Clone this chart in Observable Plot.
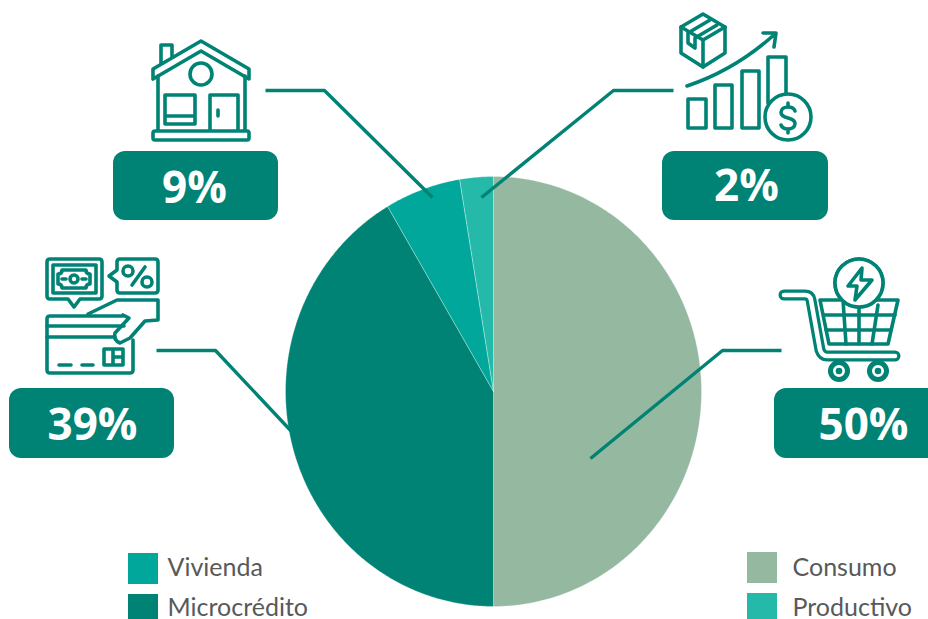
<!DOCTYPE html>
<html>
<head>
<meta charset="utf-8">
<style>html,body{margin:0;padding:0;background:#fff;overflow:hidden}svg{display:block}</style>
<script src="https://cdn.jsdelivr.net/npm/d3@7"></script>
<script src="https://cdn.jsdelivr.net/npm/@observablehq/plot@0.6"></script>
</head>
<body>
<div id="chart"></div>
<script>
const categories = ["Consumo", "Microcrédito", "Vivienda", "Productivo"];
const sliceShares = [50, 41.5, 5.9, 2.6];
const labelTexts = ["50%", "39%", "9%", "2%"];
const sliceColors = ["#94b8a0", "#008375", "#00a79a", "#25b9a9"];

const TEAL = "#008375";
const W = 928, H = 619;
const cx = 493, cy = 391, rx = 208, ry = 215;

const pieGen = d3.pie().sort(null).startAngle(0).endAngle(2 * Math.PI);
const arcs = pieGen(sliceShares);
const slicePoints = arcs.flatMap((a, i) => {
  const steps = Math.max(4, Math.ceil((a.endAngle - a.startAngle) / 0.01));
  const pts = [{name: categories[i], px: cx, py: cy}];
  for (let k = 0; k <= steps; k++) {
    const t = a.startAngle + (a.endAngle - a.startAngle) * k / steps;
    pts.push({name: categories[i], px: cx + rx * Math.sin(t), py: cy - ry * Math.cos(t)});
  }
  pts.push({name: categories[i], px: cx, py: cy});
  return pts;
});

const badges = [
  {label: labelTexts[0], x1: 774, x2: 950, y1: 388, y2: 458, tx: 863, ty: 425},
  {label: labelTexts[1], x1: 9, x2: 174, y1: 388, y2: 458, tx: 92, ty: 425},
  {label: labelTexts[2], x1: 113, x2: 278, y1: 151, y2: 220, tx: 194, ty: 188},
  {label: labelTexts[3], x1: 662, x2: 828, y1: 151, y2: 220, tx: 746, ty: 186}
];

const leaders = [
  {id: 0, pts: [[781, 350], [722, 350], [590, 458]]},
  {id: 1, pts: [[156, 350], [215, 350], [292, 432]]},
  {id: 2, pts: [[265, 90], [324, 90], [432, 197]]},
  {id: 3, pts: [[673, 90], [613, 90], [481, 197]]}
].flatMap(l => l.pts.map(p => ({id: l.id, px: p[0], py: p[1]})));

const legend = [
  {name: "Vivienda", x: 128, tx: 167, y1: 553, y2: 584, ty: 567},
  {name: "Microcrédito", x: 128, tx: 167, y1: 594, y2: 619, ty: 607},
  {name: "Consumo", x: 747, tx: 792, y1: 552, y2: 583, ty: 567},
  {name: "Productivo", x: 747, tx: 792, y1: 593, y2: 619, ty: 607}
];

// Decorative pictograms (SVG outline glyphs)
const iconStrokes = [
  // house
  "M161 63V45H172V57",
  "M153 69L201 41L249 69V79L201 51L153 79Z",
  "M158 76V130M245 76V130",
  "M165 95H195V124H165ZM165 116H195",
  "M210 130V95H238V130M218 110V116",
  "M155 131H247Q249 131 249 133V138Q249 140 247 140H155Q153 140 153 138V133Q153 131 155 131Z",
  // box + chart
  "M703 14L725 27V53L703 67L681 53V27Z",
  "M681 27L703 40L725 27M703 40V67",
  "M710 20L688 33V43L695 48V38L717 25",
  "M687 86Q735 70 775 34M763 33H776L774 47",
  "M688 99H706V128H688Z",
  "M715 85H732V128H715Z",
  "M742 71H759V128H742Z",
  "M768 103V57H786V96",
  "M795 111C794 108 791 107 788 107C784 107 781 109 781 112.500C781 115.500 784 117 788 118S795 120.500 795 123.500C795 127 792 129 788 129C785 129 782 127.500 781 125M788 103V107M788 129V133",
  // card
  "M50 259H99Q102 259 102 262V296Q102 299 99 299H80L74 307L68 299H50Q47 299 47 296V262Q47 259 50 259Z",
  "M53 265H96V293H53Z",
  "M62 270H86Q86 274 90 274V284Q86 284 86 288H62Q62 284 58 284V274Q62 274 62 270Z",
  "M62 279H66M82 279H86",
  "M120 259H155Q158 259 158 262V290Q158 293 155 293H120Q117 293 117 290V282L109 276L117 270V262Q117 259 120 259Z",
  "M132 285L145 267",
  "M88 314L117 300H158V320L145 321L130 338L120 343Q113 340 115 333L129 318L123 315",
  "M123 316H50Q47 316 47 319V370Q47 373 50 373H130Q133 373 133 370V340",
  "M47 326H124M47 337H115",
  "M59 365H71M82 365H93",
  "M104 349H123V365H104ZM113 349V365M113 357H123",
  // cart basket
  "M820 300H898L888 344H829Z",
  "M824 315H895M826 330H891",
  "M843 300L846 344M859 307V344M878 305L872 344"
];
const iconCircles = [
  {c: [201, 74], r: 11},
  {c: [74, 279], r: 4},
  {c: [128, 271], r: 5},
  {c: [147, 282], r: 5}
];
const iconFilledCircles = [
  {c: [788, 117], r: 23},
  {c: [859, 283], r: 24},
  {c: [839, 371], r: 8.5},
  {c: [878, 371], r: 8.5}
];
const cartTube = "M784 295H805Q810 295 811 300L820 350Q822 356 827 356H895";
const bolt = "M862 268L848 286H857L855 300L872 280H861Z";
const dollarIndex = 14;

function icons() {
  const g = d3.create("svg:g").attr("fill", "none").attr("stroke", TEAL).attr("stroke-width", 3.6)
    .attr("stroke-linejoin", "round").attr("stroke-linecap", "round");
  const add = d => g.append("path").attr("d", d);
  iconStrokes.forEach((d, i) => { if (i < dollarIndex) add(d); });
  // coin and cart circles cover what lies under them
  iconFilledCircles.slice(0, 2).forEach(c => g.append("circle").attr("cx", c.c[0]).attr("cy", c.c[1]).attr("r", c.r).attr("fill", "#fff"));
  iconStrokes.forEach((d, i) => { if (i >= dollarIndex && i < iconStrokes.length - 3) add(d); });
  iconCircles.forEach(c => g.append("circle").attr("cx", c.c[0]).attr("cy", c.c[1]).attr("r", c.r));
  // cart
  const top = g.append("g");
  iconStrokes.slice(-3).forEach(d => top.append("path").attr("d", d));
  top.append("circle").attr("cx", 859).attr("cy", 283).attr("r", 24).attr("fill", "#fff");
  top.append("path").attr("d", bolt);
  top.append("path").attr("d", cartTube).attr("stroke-width", 11);
  top.append("path").attr("d", cartTube).attr("stroke-width", 4.5).attr("stroke", "#fff");
  iconFilledCircles.slice(2).forEach(c => {
    top.append("circle").attr("cx", c.c[0]).attr("cy", c.c[1]).attr("r", c.r).attr("fill", "#fff").attr("stroke-width", 5);
    top.append("circle").attr("cx", c.c[0]).attr("cy", c.c[1]).attr("r", 1.5).attr("fill", TEAL);
  });
  return g.node();
}

const chart = Plot.plot({
  width: W,
  height: H,
  margin: 0,
  style: {background: "#fff"},
  x: {domain: [0, W], range: [0, W], axis: null},
  y: {domain: [0, H], range: [0, H], axis: null},
  color: {domain: categories, range: sliceColors},
  marks: [
    Plot.line(slicePoints, {x: "px", y: "py", z: "name", fill: "name", stroke: "#fff", strokeOpacity: 0.3, strokeWidth: 1}),
    Plot.line(leaders, {x: "px", y: "py", z: "id", stroke: TEAL, strokeWidth: 3.4, strokeLinecap: "butt", strokeLinejoin: "miter"}),
    Plot.rect(badges, {x1: "x1", x2: "x2", y1: "y1", y2: "y2", fill: TEAL, rx: 12}),
    Plot.text(badges, {x: "tx", y: "ty", text: "label", fill: "#fff", fontSize: 44, fontWeight: 700, fontFamily: "Open Sans", textAnchor: "middle"}),
    Plot.rect(legend, {x1: "x", x2: d => d.x + 30, y1: "y1", y2: "y2", fill: "name"}),
    Plot.text(legend, {x: "tx", y: "ty", text: "name", fill: "#58595b", fontSize: 25, fontFamily: "Lato", textAnchor: "start"}),
    icons
  ]
});
document.getElementById("chart").append(chart);
</script>
</body>
</html>
